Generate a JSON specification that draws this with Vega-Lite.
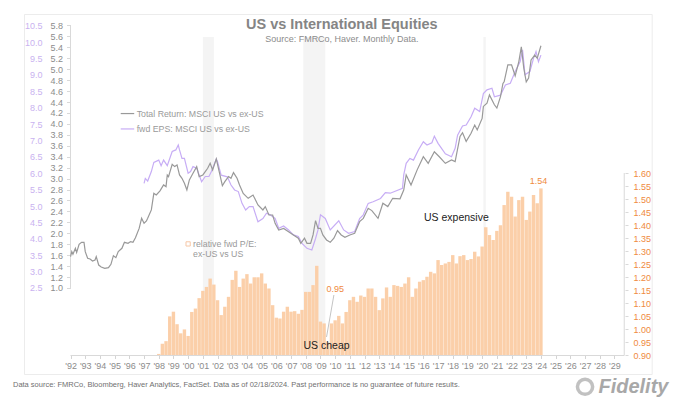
{
  "$schema": "https://vega.github.io/schema/vega-lite/v6.json",
  "width": 627.7,
  "height": 360,
  "autosize": "none",
  "padding": {"left": 24, "top": 14, "right": 28, "bottom": 32},
  "background": "white",
  "config": {"font": "Liberation Sans", "view": {"stroke": "#ececec", "strokeWidth": 1}},
  "title": {
    "text": "US vs International Equities",
    "subtitle": "Source: FMRCo, Haver.  Monthly Data.",
    "anchor": "middle",
    "frame": "group",
    "dx": 4,
    "offset": -31,
    "fontSize": 14.5,
    "fontWeight": "bold",
    "color": "#858585",
    "subtitleFontSize": 9,
    "subtitleColor": "#8c8c8c",
    "subtitlePadding": 3
  },
  "datasets": {
    "bands": [
      {"start": "2001-01", "end": "2001-10", "top": 2.1217},
      {"start": "2007-11", "end": "2009-05", "top": 2.1217},
      {"start": "2020-02", "end": "2020-04", "top": 2.1217}
    ],
    "axis_lines": [
      {"x": "1992-01", "x2": "2029-09", "y": 0.9, "y2": 0.9},
      {"x": "2029-09", "x2": "2029-09", "y": 0.9, "y2": 1.6},
      {"x": "1992-01", "x2": "1992-01", "y": 1.159, "y2": 2.165}
    ],
    "bars": [
      {"date":"1998-01","ratio":0.906},{"date":"1998-04","ratio":0.945},{"date":"1998-07","ratio":0.955},{"date":"1998-10","ratio":1.05},
      {"date":"1999-01","ratio":1.068},{"date":"1999-04","ratio":1.02},{"date":"1999-07","ratio":0.985},{"date":"1999-10","ratio":1.0},
      {"date":"2000-01","ratio":0.975},{"date":"2000-04","ratio":1.067},{"date":"2000-07","ratio":1.08},{"date":"2000-10","ratio":1.12},
      {"date":"2001-01","ratio":1.148},{"date":"2001-04","ratio":1.163},{"date":"2001-07","ratio":1.195},{"date":"2001-10","ratio":1.172},
      {"date":"2002-01","ratio":1.112},{"date":"2002-04","ratio":1.055},{"date":"2002-07","ratio":1.087},{"date":"2002-10","ratio":1.125},
      {"date":"2003-01","ratio":1.19},{"date":"2003-04","ratio":1.225},{"date":"2003-07","ratio":1.163},{"date":"2003-10","ratio":1.195},
      {"date":"2004-01","ratio":1.212},{"date":"2004-04","ratio":1.176},{"date":"2004-07","ratio":1.2},{"date":"2004-10","ratio":1.2},
      {"date":"2005-01","ratio":1.215},{"date":"2005-04","ratio":1.176},{"date":"2005-07","ratio":1.157},{"date":"2005-10","ratio":1.093},
      {"date":"2006-01","ratio":1.045},{"date":"2006-04","ratio":1.042},{"date":"2006-07","ratio":1.068},{"date":"2006-10","ratio":1.087},
      {"date":"2007-01","ratio":1.068},{"date":"2007-04","ratio":1.07},{"date":"2007-07","ratio":1.06},{"date":"2007-10","ratio":1.075},
      {"date":"2008-01","ratio":1.144},{"date":"2008-04","ratio":1.144},{"date":"2008-07","ratio":1.17},{"date":"2008-10","ratio":1.244},
      {"date":"2009-01","ratio":1.03},{"date":"2009-04","ratio":1.023},{"date":"2009-07","ratio":0.95},{"date":"2009-10","ratio":1.023},
      {"date":"2010-01","ratio":1.035},{"date":"2010-04","ratio":1.052},{"date":"2010-07","ratio":1.023},{"date":"2010-10","ratio":1.067},
      {"date":"2011-01","ratio":1.112},{"date":"2011-04","ratio":1.125},{"date":"2011-07","ratio":1.106},{"date":"2011-10","ratio":1.13},
      {"date":"2012-01","ratio":1.125},{"date":"2012-04","ratio":1.157},{"date":"2012-07","ratio":1.157},{"date":"2012-10","ratio":1.125},
      {"date":"2013-01","ratio":1.074},{"date":"2013-04","ratio":1.119},{"date":"2013-07","ratio":1.161},{"date":"2013-10","ratio":1.125},
      {"date":"2014-01","ratio":1.17},{"date":"2014-04","ratio":1.167},{"date":"2014-07","ratio":1.163},{"date":"2014-10","ratio":1.176},
      {"date":"2015-01","ratio":1.2},{"date":"2015-04","ratio":1.125},{"date":"2015-07","ratio":1.157},{"date":"2015-10","ratio":1.183},
      {"date":"2016-01","ratio":1.189},{"date":"2016-04","ratio":1.202},{"date":"2016-07","ratio":1.221},{"date":"2016-10","ratio":1.215},
      {"date":"2017-01","ratio":1.266},{"date":"2017-04","ratio":1.247},{"date":"2017-07","ratio":1.253},{"date":"2017-10","ratio":1.259},
      {"date":"2018-01","ratio":1.285},{"date":"2018-04","ratio":1.253},{"date":"2018-07","ratio":1.281},{"date":"2018-10","ratio":1.285},
      {"date":"2019-01","ratio":1.266},{"date":"2019-04","ratio":1.27},{"date":"2019-07","ratio":1.298},{"date":"2019-10","ratio":1.28},
      {"date":"2020-01","ratio":1.318},{"date":"2020-04","ratio":1.392},{"date":"2020-07","ratio":1.362},{"date":"2020-10","ratio":1.343},
      {"date":"2021-01","ratio":1.378},{"date":"2021-04","ratio":1.4},{"date":"2021-07","ratio":1.477},{"date":"2021-10","ratio":1.528},
      {"date":"2022-01","ratio":1.509},{"date":"2022-04","ratio":1.433},{"date":"2022-07","ratio":1.496},{"date":"2022-10","ratio":1.509},
      {"date":"2023-01","ratio":1.42},{"date":"2023-04","ratio":1.452},{"date":"2023-07","ratio":1.516},{"date":"2023-10","ratio":1.484},
      {"date":"2024-01","ratio":1.541}
    ],
    "total_return": [
      {"date":"1992-01","v":1.573},{"date":"1992-02","v":1.665},{"date":"1992-03","v":1.616},{"date":"1992-05","v":1.726},{"date":"1992-06","v":1.652},{"date":"1992-08","v":1.8},{"date":"1992-10","v":1.835},{"date":"1992-12","v":1.835},
      {"date":"1993-01","v":1.665},{"date":"1993-03","v":1.543},{"date":"1993-05","v":1.53},{"date":"1993-07","v":1.494},{"date":"1993-09","v":1.512},{"date":"1993-10","v":1.573},{"date":"1993-12","v":1.42},
      {"date":"1994-02","v":1.384},{"date":"1994-05","v":1.36},{"date":"1994-08","v":1.372},{"date":"1994-10","v":1.433},{"date":"1994-12","v":1.591},
      {"date":"1995-02","v":1.555},{"date":"1995-04","v":1.665},{"date":"1995-07","v":1.726},{"date":"1995-09","v":1.835},{"date":"1995-12","v":1.817},
      {"date":"1996-02","v":1.848},{"date":"1996-04","v":1.835},{"date":"1996-06","v":1.92},{"date":"1996-09","v":2.09},{"date":"1996-11","v":2.274},
      {"date":"1997-01","v":2.183},{"date":"1997-03","v":2.226},{"date":"1997-04","v":2.274},{"date":"1997-07","v":2.427},{"date":"1997-09","v":2.73},{"date":"1997-11","v":2.7},
      {"date":"1998-02","v":2.775},{"date":"1998-05","v":2.884},{"date":"1998-07","v":2.854},{"date":"1998-08","v":3.067},{"date":"1998-09","v":3.037},{"date":"1998-12","v":3.262},
      {"date":"1999-02","v":3.22},{"date":"1999-04","v":3.25},{"date":"1999-06","v":3.067},{"date":"1999-08","v":3.006},{"date":"1999-10","v":2.915},{"date":"1999-12","v":2.793},
      {"date":"2000-02","v":2.976},{"date":"2000-05","v":3.098},{"date":"2000-08","v":3.22},{"date":"2000-10","v":3.037},
      {"date":"2001-01","v":3.067},{"date":"2001-05","v":3.19},{"date":"2001-07","v":3.28},{"date":"2001-09","v":3.16},{"date":"2001-12","v":3.36},
      {"date":"2002-02","v":3.16},{"date":"2002-05","v":2.87},{"date":"2002-07","v":2.945},{"date":"2002-10","v":3.037},{"date":"2002-12","v":3.006},
      {"date":"2003-02","v":3.11},{"date":"2003-05","v":3.006},{"date":"2003-07","v":2.884},{"date":"2003-10","v":2.73},
      {"date":"2004-02","v":2.64},{"date":"2004-06","v":2.7},{"date":"2004-10","v":2.518},
      {"date":"2005-02","v":2.427},{"date":"2005-04","v":2.488},{"date":"2005-07","v":2.335},{"date":"2005-10","v":2.335},{"date":"2005-12","v":2.183},
      {"date":"2006-03","v":2.06},{"date":"2006-07","v":2.09},{"date":"2006-11","v":2.03},
      {"date":"2007-03","v":1.97},{"date":"2007-07","v":1.91},{"date":"2007-09","v":1.817},{"date":"2007-12","v":1.91},
      {"date":"2008-02","v":1.817},{"date":"2008-05","v":1.817},{"date":"2008-07","v":1.97},{"date":"2008-09","v":2.232},{"date":"2008-11","v":2.09},
      {"date":"2009-01","v":2.09},{"date":"2009-03","v":1.97},{"date":"2009-06","v":1.878},{"date":"2009-09","v":1.835},{"date":"2009-12","v":1.91},
      {"date":"2010-03","v":2.05},{"date":"2010-06","v":1.97},{"date":"2010-09","v":1.927},
      {"date":"2011-01","v":1.97},{"date":"2011-05","v":2.0},{"date":"2011-09","v":2.213},{"date":"2011-12","v":2.274},
      {"date":"2012-04","v":2.457},{"date":"2012-07","v":2.415},{"date":"2012-12","v":2.274},
      {"date":"2013-04","v":2.549},{"date":"2013-08","v":2.488},{"date":"2013-12","v":2.64},
      {"date":"2014-06","v":2.63},{"date":"2014-09","v":2.79},{"date":"2014-11","v":3.067},
      {"date":"2015-03","v":2.884},{"date":"2015-08","v":3.16},
      {"date":"2016-01","v":3.4},{"date":"2016-05","v":3.28},{"date":"2016-10","v":3.49},
      {"date":"2017-02","v":3.4},{"date":"2017-07","v":3.28},{"date":"2017-12","v":3.34},
      {"date":"2018-03","v":3.31},{"date":"2018-07","v":3.77},{"date":"2018-09","v":3.84},{"date":"2018-12","v":3.68},
      {"date":"2019-04","v":3.83},{"date":"2019-07","v":3.98},{"date":"2019-09","v":3.89},
      {"date":"2020-01","v":4.1},{"date":"2020-02","v":4.32},{"date":"2020-05","v":4.38},{"date":"2020-07","v":4.53},{"date":"2020-11","v":4.35},
      {"date":"2021-01","v":4.29},{"date":"2021-04","v":4.5},{"date":"2021-06","v":4.74},{"date":"2021-07","v":4.77},{"date":"2021-10","v":5.08},
      {"date":"2022-01","v":5.08},{"date":"2022-04","v":4.88},{"date":"2022-07","v":5.14},{"date":"2022-09","v":5.41},{"date":"2022-11","v":5.02},
      {"date":"2023-01","v":4.77},{"date":"2023-03","v":4.84},{"date":"2023-05","v":5.17},{"date":"2023-08","v":5.26},{"date":"2023-10","v":5.2},
      {"date":"2024-01","v":5.43}
    ],
    "fwd_eps": [
      {"date":"1997-01","v":5.69},{"date":"1997-02","v":5.84},{"date":"1997-04","v":5.76},{"date":"1997-07","v":6.05},{"date":"1997-09","v":6.33},
      {"date":"1998-01","v":6.4},{"date":"1998-03","v":6.23},{"date":"1998-05","v":6.4},{"date":"1998-08","v":6.23},{"date":"1998-12","v":6.66},
      {"date":"1999-03","v":6.71},{"date":"1999-05","v":6.86},{"date":"1999-06","v":6.71},{"date":"1999-08","v":6.45},{"date":"1999-10","v":6.45},
      {"date":"2000-01","v":6.0},{"date":"2000-03","v":6.05},{"date":"2000-05","v":6.2},{"date":"2000-08","v":6.15},{"date":"2000-12","v":5.74},
      {"date":"2001-03","v":5.9},{"date":"2001-06","v":5.9},{"date":"2001-08","v":6.05},{"date":"2001-12","v":6.43},
      {"date":"2002-01","v":6.35},{"date":"2002-04","v":5.94},{"date":"2002-09","v":5.89},{"date":"2002-12","v":5.64},
      {"date":"2003-03","v":5.49},{"date":"2003-06","v":5.44},{"date":"2003-09","v":5.08},{"date":"2003-12","v":4.88},
      {"date":"2004-03","v":4.98},{"date":"2004-06","v":4.98},{"date":"2004-10","v":4.52},
      {"date":"2005-02","v":4.62},{"date":"2005-05","v":4.78},{"date":"2005-08","v":4.73},{"date":"2005-12","v":4.62},
      {"date":"2006-03","v":4.32},{"date":"2006-07","v":4.39},{"date":"2006-11","v":4.27},
      {"date":"2007-03","v":4.12},{"date":"2007-07","v":4.07},{"date":"2007-10","v":3.86},
      {"date":"2008-02","v":3.71},{"date":"2008-06","v":3.66},{"date":"2008-09","v":4.01},{"date":"2008-11","v":4.27},
      {"date":"2009-01","v":4.73},{"date":"2009-05","v":4.62},{"date":"2009-09","v":4.27},
      {"date":"2010-04","v":4.55},{"date":"2010-08","v":4.27},{"date":"2010-12","v":4.17},
      {"date":"2011-05","v":4.22},{"date":"2011-09","v":4.62},{"date":"2011-12","v":4.73},
      {"date":"2012-04","v":5.08},{"date":"2012-08","v":5.13},
      {"date":"2013-02","v":5.23},{"date":"2013-06","v":5.41},{"date":"2013-10","v":5.39},
      {"date":"2014-08","v":5.54},{"date":"2014-09","v":5.95},{"date":"2014-11","v":6.3},
      {"date":"2015-02","v":6.45},{"date":"2015-05","v":6.4},{"date":"2015-09","v":6.71},
      {"date":"2016-01","v":6.96},{"date":"2016-04","v":6.86},{"date":"2016-08","v":6.93},{"date":"2016-10","v":7.13},
      {"date":"2017-01","v":6.91},{"date":"2017-07","v":6.59},{"date":"2017-12","v":6.5},
      {"date":"2018-03","v":6.76},{"date":"2018-05","v":7.16},{"date":"2018-09","v":7.44},{"date":"2018-12","v":7.47},
      {"date":"2019-04","v":7.72},{"date":"2019-07","v":7.98},{"date":"2019-11","v":7.88},
      {"date":"2020-02","v":8.43},{"date":"2020-05","v":8.54},{"date":"2020-09","v":8.59},{"date":"2020-11","v":8.33},
      {"date":"2021-04","v":8.38},{"date":"2021-08","v":8.69},{"date":"2021-12","v":8.74},
      {"date":"2022-04","v":9.1},{"date":"2022-08","v":9.4},{"date":"2022-10","v":9.76},{"date":"2022-12","v":9.0},
      {"date":"2023-04","v":9.1},{"date":"2023-07","v":9.5},{"date":"2023-09","v":9.71},{"date":"2023-11","v":9.4},
      {"date":"2024-01","v":9.6}
    ]
  },
  "resolve": {"scale": {"y": "independent"}},
  "encoding": {
    "x": {
      "type": "temporal",
      "scale": {"domain": [{"year": 1988, "month": 11, "date": 1}, {"year": 2031, "month": 7, "date": 15}], "padding": 0},
      "title": null,
      "axis": {
        "orient": "bottom",
        "offset": -18.5,
        "domain": false,
        "grid": false,
        "values": [{"year":1992},{"year":1993},{"year":1994},{"year":1995},{"year":1996},{"year":1997},{"year":1998},{"year":1999},{"year":2000},{"year":2001},{"year":2002},{"year":2003},{"year":2004},{"year":2005},{"year":2006},{"year":2007},{"year":2008},{"year":2009},{"year":2010},{"year":2011},{"year":2012},{"year":2013},{"year":2014},{"year":2015},{"year":2016},{"year":2017},{"year":2018},{"year":2019},{"year":2020},{"year":2021},{"year":2022},{"year":2023},{"year":2024},{"year":2025},{"year":2026},{"year":2027},{"year":2028},{"year":2029}],
        "format": "'%y",
        "labelFontSize": 9,
        "labelColor": "#8c8c8c",
        "labelPadding": 3,
        "labelOverlap": false,
        "labelFlush": false,
        "tickSize": 3,
        "tickColor": "#d4d4d4"
      }
    }
  },
  "layer": [
    {
      "data": {"name": "bands"},
      "mark": {"type": "rect", "color": "#f4f4f4"},
      "encoding": {
        "x": {"field": "start"},
        "x2": {"field": "end"},
        "y": {"field": "top", "type": "quantitative", "scale": {"domain": [0.829, 2.2099], "nice": false, "zero": false}, "axis": null},
        "y2": {"datum": 0.9}
      }
    },
    {
      "data": {"name": "bars"},
      "mark": {"type": "bar", "color": "#fbcfa9", "size": 3.4},
      "encoding": {
        "x": {"field": "date"},
        "y": {
          "field": "ratio",
          "type": "quantitative",
          "title": null,
          "scale": {"domain": [0.829, 2.2099], "nice": false, "zero": false},
          "axis": {
            "orient": "right",
            "offset": -26.7,
            "domain": false,
            "grid": false,
            "values": [0.9,0.95,1.0,1.05,1.1,1.15,1.2,1.25,1.3,1.35,1.4,1.45,1.5,1.55,1.6],
            "format": ".2f",
            "labelFontSize": 9,
            "labelColor": "#ef8a3e",
            "labelPadding": 5,
            "tickSize": 3,
            "tickColor": "#d9d9d9"
          }
        },
        "y2": {"datum": 0.9}
      }
    },
    {
      "data": {"name": "axis_lines"},
      "mark": {"type": "rule", "color": "#d9d9d9", "strokeWidth": 1},
      "encoding": {
        "x": {"field": "x"},
        "x2": {"field": "x2"},
        "y": {"field": "y", "type": "quantitative", "scale": {"domain": [0.829, 2.2099], "nice": false, "zero": false}, "axis": null},
        "y2": {"field": "y2"}
      }
    },
    {
      "data": {"name": "fwd_eps"},
      "mark": {"type": "line", "color": "#c7adf5", "strokeWidth": 1.2},
      "encoding": {
        "x": {"field": "date"},
        "y": {
          "field": "v",
          "type": "quantitative",
          "title": null,
          "scale": {"domain": [-0.122, 10.854], "nice": false, "zero": false},
          "axis": {
            "orient": "left",
            "offset": -18,
            "domain": false,
            "ticks": false,
            "grid": false,
            "values": [2.5,3,3.5,4,4.5,5,5.5,6,6.5,7,7.5,8,8.5,9,9.5,10,10.5],
            "format": ".1f",
            "labelFontSize": 9,
            "labelColor": "#c9b2f0",
            "labelPadding": 0
          }
        }
      }
    },
    {
      "data": {"name": "total_return"},
      "mark": {"type": "line", "color": "#999999", "strokeWidth": 1.2},
      "encoding": {
        "x": {"field": "date"},
        "y": {
          "field": "v",
          "type": "quantitative",
          "title": null,
          "scale": {"domain": [-0.5725, 6.01], "nice": false, "zero": false},
          "axis": {
            "orient": "left",
            "offset": -46.5,
            "domain": false,
            "grid": false,
            "values": [1,1.2,1.4,1.6,1.8,2,2.2,2.4,2.6,2.8,3,3.2,3.4,3.6,3.8,4,4.2,4.4,4.6,4.8,5,5.2,5.4,5.6,5.8],
            "format": ".1f",
            "labelFontSize": 9,
            "labelColor": "#8c8c8c",
            "labelPadding": 4,
            "labelOverlap": false,
            "tickSize": 4,
            "tickColor": "#d9d9d9"
          }
        }
      }
    },
    {
      "data": {"values": [{"x": "1995-06", "x2": "1996-05", "y": 1.828}]},
      "mark": {"type": "rule", "color": "#999999", "strokeWidth": 1.2},
      "encoding": {
        "x": {"field": "x"},
        "x2": {"field": "x2"},
        "y": {"field": "y", "type": "quantitative", "scale": {"domain": [0.829, 2.2099], "nice": false, "zero": false}, "axis": null}
      }
    },
    {
      "data": {"values": [{"x": "1995-06", "x2": "1996-05", "y": 1.769}]},
      "mark": {"type": "rule", "color": "#c7adf5", "strokeWidth": 1.2},
      "encoding": {
        "x": {"field": "x"},
        "x2": {"field": "x2"},
        "y": {"field": "y", "type": "quantitative", "scale": {"domain": [0.829, 2.2099], "nice": false, "zero": false}, "axis": null}
      }
    },
    {
      "data": {"values": [{"x": "2009-12", "x2": "2009-06", "y": 1.132, "y2": 0.971}]},
      "mark": {"type": "rule", "color": "#c4c4c4", "strokeWidth": 1},
      "encoding": {
        "x": {"field": "x"},
        "x2": {"field": "x2"},
        "y": {"field": "y", "type": "quantitative", "scale": {"domain": [0.829, 2.2099], "nice": false, "zero": false}, "axis": null},
        "y2": {"field": "y2"}
      }
    },
    {
      "data": {"values": [{"x": "2000-01", "y": 1.328}]},
      "mark": {"type": "point", "shape": "square", "filled": false, "color": "#f4b183", "size": 18, "strokeWidth": 1},
      "encoding": {
        "x": {"field": "x"},
        "y": {"field": "y", "type": "quantitative", "scale": {"domain": [0.829, 2.2099], "nice": false, "zero": false}, "axis": null}
      }
    },
    {
      "data": {"values": [
        {"x": "1996-07", "y": 1.828, "label": "Total Return: MSCI US vs ex-US"},
        {"x": "1996-07", "y": 1.769, "label": "fwd EPS: MSCI US vs ex-US"},
        {"x": "2000-05", "y": 1.328, "label": "relative fwd P/E:"},
        {"x": "2000-05", "y": 1.289, "label": "ex-US vs US"}
      ]},
      "mark": {"type": "text", "align": "left", "baseline": "middle", "fontSize": 8.8, "color": "#9a9a9a"},
      "encoding": {
        "x": {"field": "x"},
        "y": {"field": "y", "type": "quantitative", "scale": {"domain": [0.829, 2.2099], "nice": false, "zero": false}, "axis": null},
        "text": {"field": "label"}
      }
    },
    {
      "data": {"values": [
        {"x": "2023-11", "y": 1.569, "label": "1.54"},
        {"x": "2010-01", "y": 1.155, "label": "0.95"}
      ]},
      "mark": {"type": "text", "align": "center", "baseline": "middle", "fontSize": 9, "color": "#ef8a3e"},
      "encoding": {
        "x": {"field": "x"},
        "y": {"field": "y", "type": "quantitative", "scale": {"domain": [0.829, 2.2099], "nice": false, "zero": false}, "axis": null},
        "text": {"field": "label"}
      }
    },
    {
      "data": {"values": [
        {"x": "2009-06", "y": 0.936, "label": "US cheap"},
        {"x": "2018-04", "y": 1.427, "label": "US expensive"}
      ]},
      "mark": {"type": "text", "align": "center", "baseline": "middle", "fontSize": 10.5, "color": "#222222"},
      "encoding": {
        "x": {"field": "x"},
        "y": {"field": "y", "type": "quantitative", "scale": {"domain": [0.829, 2.2099], "nice": false, "zero": false}, "axis": null},
        "text": {"field": "label"}
      }
    },
    {
      "data": {"values": [{"x": "1988-02", "y": 0.785, "label": "Data source: FMRCo, Bloomberg, Haver Analytics, FactSet. Data as of 02/18/2024. Past performance is no guarantee of future results."}]},
      "mark": {"type": "text", "align": "left", "baseline": "middle", "fontSize": 7.5, "color": "#707070", "clip": false},
      "encoding": {
        "x": {"field": "x"},
        "y": {"field": "y", "type": "quantitative", "scale": {"domain": [0.829, 2.2099], "nice": false, "zero": false}, "axis": null},
        "text": {"field": "label"}
      }
    },
    {
      "data": {"values": [{"x": "2027-01", "y": 0.78}]},
      "mark": {"type": "point", "shape": "circle", "filled": false, "color": "#a8a8a8", "size": 230, "strokeWidth": 3.5},
      "encoding": {
        "x": {"field": "x"},
        "y": {"field": "y", "type": "quantitative", "scale": {"domain": [0.829, 2.2099], "nice": false, "zero": false}, "axis": null}
      }
    },
    {
      "data": {"values": [{"x": "2027-12", "y": 0.778, "label": "Fidelity"}]},
      "mark": {"type": "text", "align": "left", "baseline": "middle", "fontSize": 20, "fontWeight": "bold", "fontStyle": "italic", "color": "#a8a8a8"},
      "encoding": {
        "x": {"field": "x"},
        "y": {"field": "y", "type": "quantitative", "scale": {"domain": [0.829, 2.2099], "nice": false, "zero": false}, "axis": null},
        "text": {"field": "label"}
      }
    }
  ]
}
